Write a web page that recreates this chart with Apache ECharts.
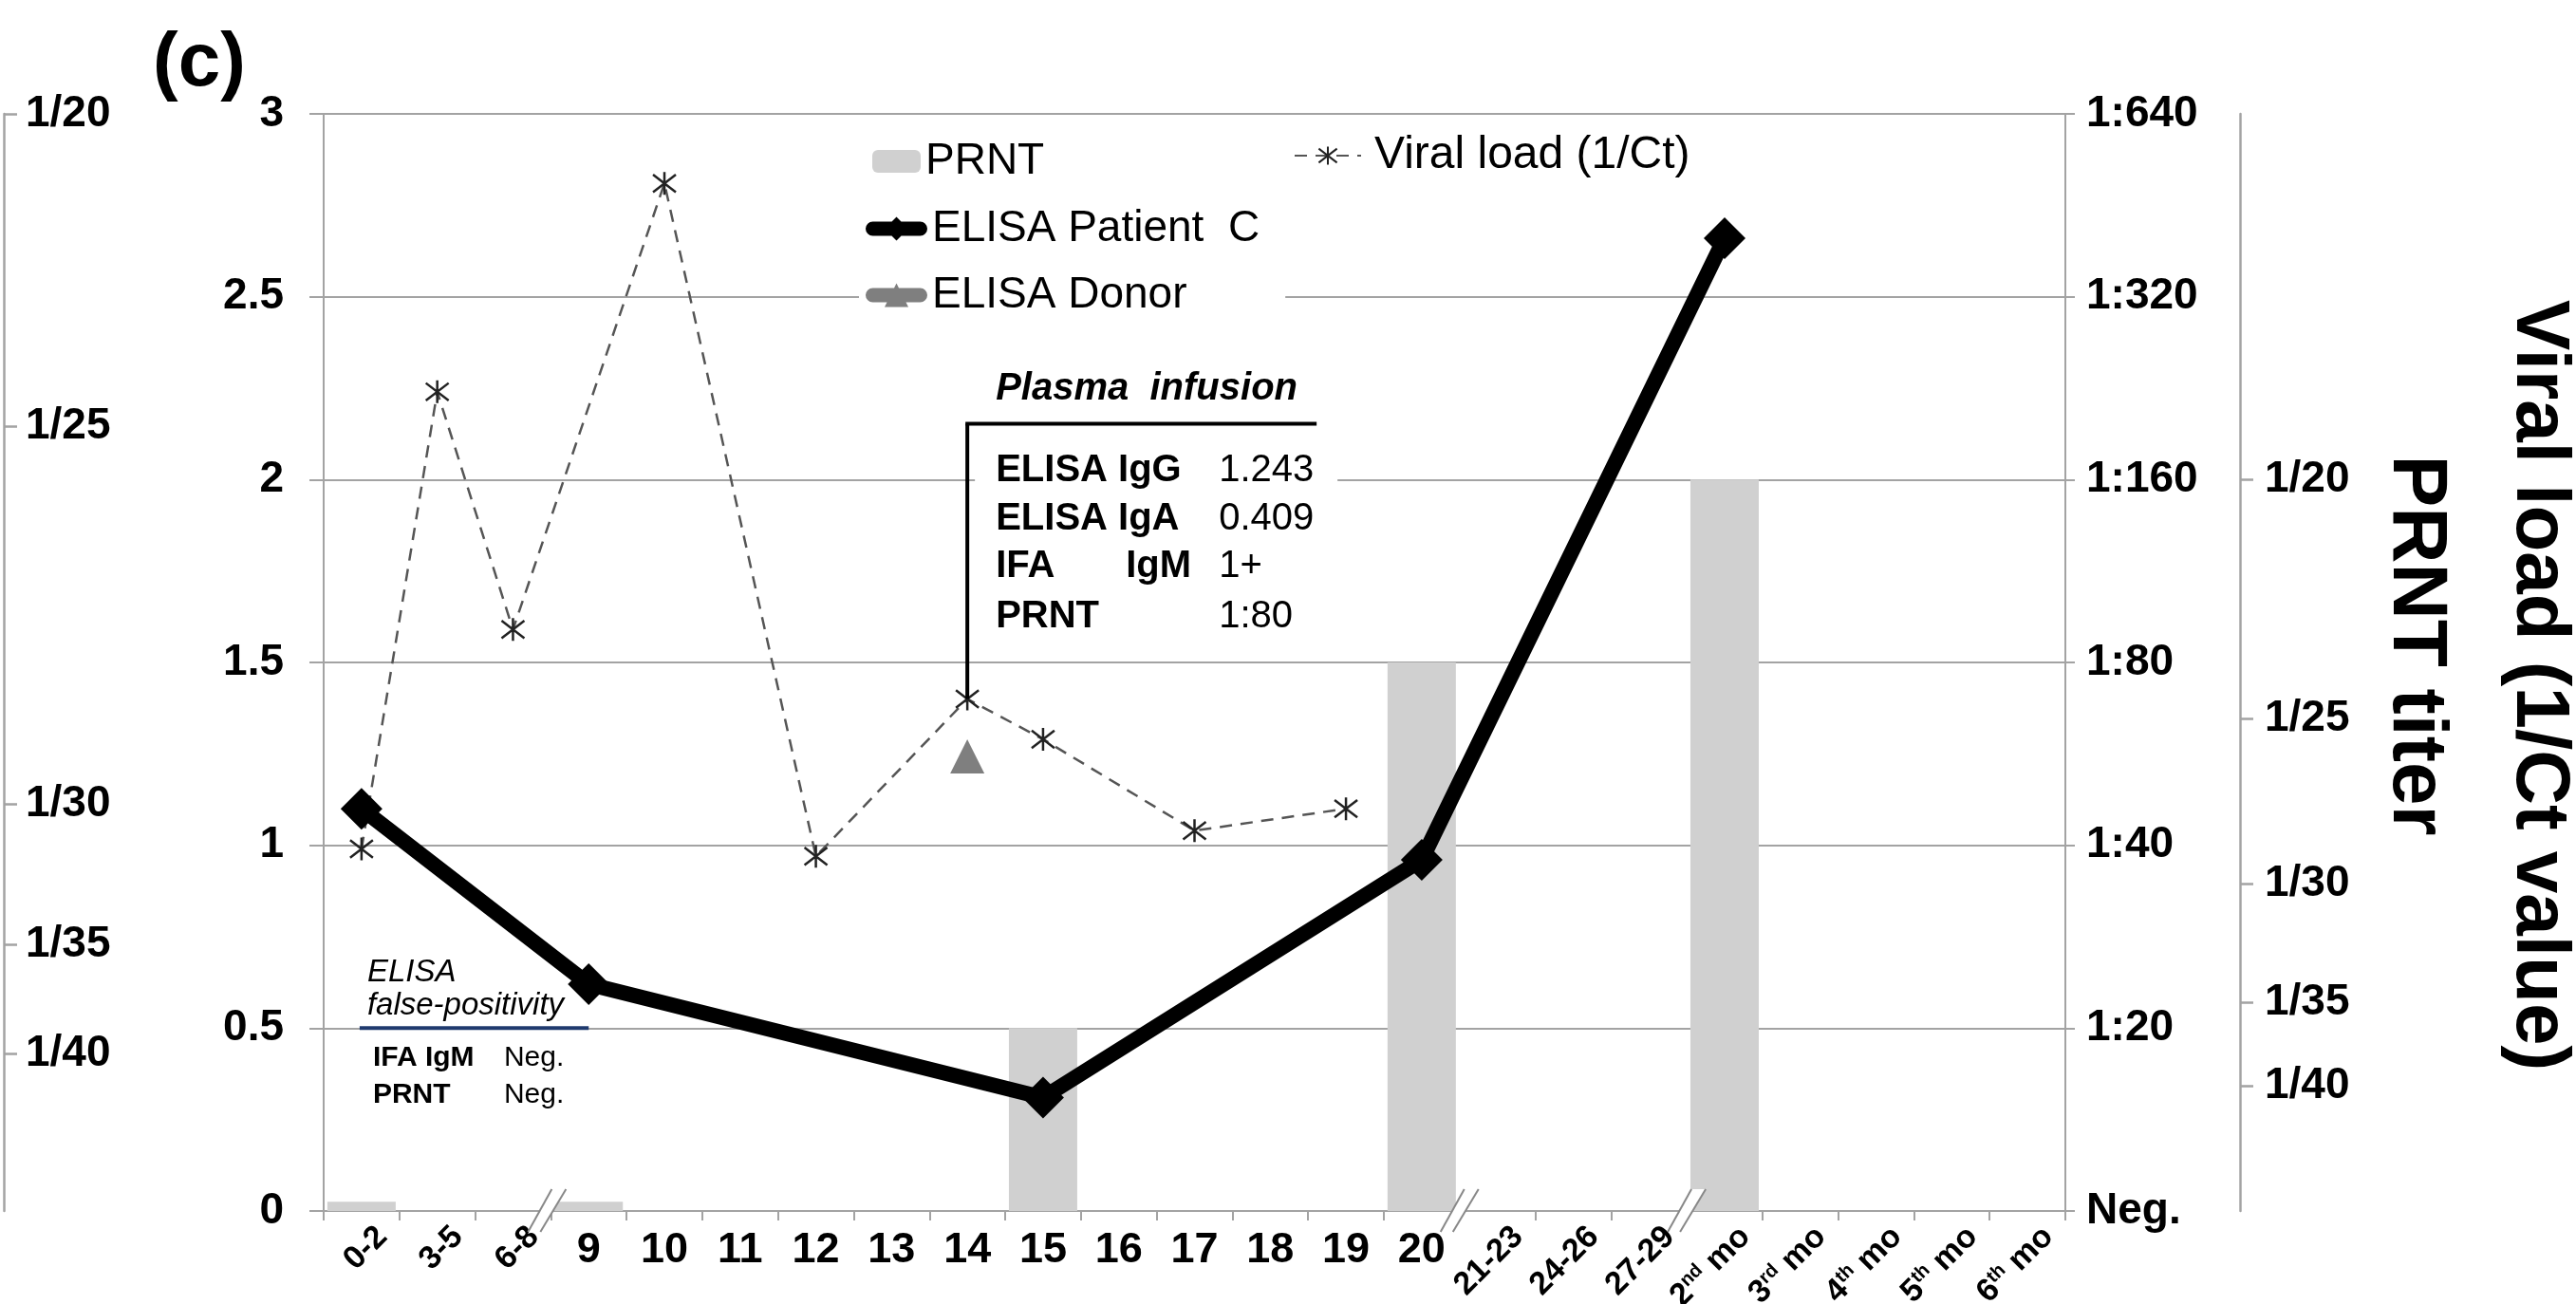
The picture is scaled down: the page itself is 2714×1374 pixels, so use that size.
<!DOCTYPE html>
<html><head><meta charset="utf-8">
<script src="https://cdn.jsdelivr.net/npm/echarts@6/dist/echarts.min.js"></script>
<style>html,body{margin:0;padding:0;background:#fff}#c{width:2714px;height:1374px}</style>
</head><body><div id="c"></div>
<script>
// ---------- data ----------
const categories = ['0-2','3-5','6-8','9','10','11','12','13','14','15','16','17','18','19','20','21-23','24-26','27-29','2nd mo','3rd mo','4th mo','5th mo','6th mo'];
const prntValues   = [0.025,null,null,0.025,null,null,null,null,null,0.5,null,null,null,null,1.5,null,null,null,2.0,null,null,null,null];
const elisaPatient = [1.10,null,null,0.62,null,null,null,null,null,0.31,null,null,null,null,0.96,null,null,null,2.66,null,null,null,null];
const elisaDonor   = [null,null,null,null,null,null,null,null,1.243,null,null,null,null,null,null,null,null,null,null,null,null,null,null];
const viralLoad    = [0.99,2.24,1.59,null,2.81,null,0.97,null,1.40,1.29,null,1.04,null,1.10,null,null,null,null,null,null,null,null,null];
const rightTiterLabels = ['Neg.','1:20','1:40','1:80','1:160','1:320','1:640'];
const leftCtLabels  = ['1/20','1/25','1/30','1/35','1/40'];
const leftCtPos     = [3.0, 2.145, 1.113, 0.728, 0.43];
const rightCtLabels = ['1/20','1/25','1/30','1/35','1/40'];
const rightCtPos    = [2.0, 1.345, 0.894, 0.571, 0.343];
const breakBefore = ['9','21-23','2nd mo'];
const numericCats = ['9','10','11','12','13','14','15','16','17','18','19','20'];

const FF = "'Liberation Sans', Arial, sans-serif";
const AX = '#a3a3a3';

function ctFormatter(labels, pos){
  return function(v){
    let best=-1, d=1e9;
    pos.forEach((p,i)=>{ if(Math.abs(p-v)<d){d=Math.abs(p-v);best=i;} });
    return d<0.01 ? labels[best] : '';
  };
}
function richMonth(c){
  const m = c.match(/^(\d)(st|nd|rd|th) mo$/);
  if(m) return '{n|'+m[1]+'}{s|'+m[2]+'}{n| mo}';
  return '{n|'+c+'}';
}
const patientIcon = 'path://M7.5,5L57.5,5A7.5,7.5 0 0 1 57.5,20L7.5,20A7.5,7.5 0 0 1 7.5,5ZM32.5,0L45,12.5L32.5,25L20,12.5Z';
const donorIcon   = 'path://M7.5,5L57.5,5A7.5,7.5 0 0 1 57.5,20L7.5,20A7.5,7.5 0 0 1 7.5,5ZM32.5,0L45,25L20,25Z';

const option = {
  animation:false,
  backgroundColor:'#fff',
  grid:{left:341, right:538, top:120, bottom:98, containLabel:false, outerBoundsMode:'none'},
  xAxis:[
    {type:'category', data:categories, boundaryGap:true,
     axisLine:{lineStyle:{color:AX,width:2}},
     axisTick:{show:true, interval:0, length:10, lineStyle:{color:AX,width:2}},
     axisLabel:{interval:0, margin:19, fontFamily:FF, fontWeight:'bold', fontSize:45, color:'#000',
       formatter:v=> numericCats.indexOf(v)>=0 ? v : ''},
     splitLine:{show:false}},
    {type:'category', data:categories, boundaryGap:true, position:'bottom', offset:-6,
     axisLine:{show:false}, axisTick:{show:false}, splitLine:{show:false},
     axisLabel:{interval:0, rotate:45, margin:6, padding:[62,0,0,0], color:'#000',
       formatter:v=> numericCats.indexOf(v)>=0 ? '' : richMonth(v),
       rich:{n:{fontFamily:FF,fontWeight:'bold',fontSize:34,color:'#000',lineHeight:35},
             s:{fontFamily:FF,fontWeight:'bold',fontSize:20,color:'#000',verticalAlign:'top',lineHeight:35}}}}
  ],
  yAxis:[
    {type:'value', min:0, max:3, interval:0.5, position:'left',
     axisLine:{show:true, lineStyle:{color:AX,width:2}},
     axisTick:{show:true, length:15, lineStyle:{color:AX,width:2}},
     axisLabel:{margin:42, fontFamily:FF, fontWeight:'bold', fontSize:46, color:'#000'},
     splitLine:{show:true, lineStyle:{color:AX,width:2}}},
    {type:'value', min:0, max:3, interval:0.5, position:'right',
     axisLine:{show:true, lineStyle:{color:AX,width:2}},
     axisTick:{show:true, length:10, lineStyle:{color:AX,width:2}},
     axisLabel:{margin:22, fontFamily:FF, fontWeight:'bold', fontSize:46, color:'#000',
       formatter:v=> rightTiterLabels[Math.round(v/0.5)]},
     splitLine:{show:false}},
    {type:'value', min:0, max:3, position:'left', offset:337,
     axisLine:{show:true, lineStyle:{color:AX,width:2.5}},
     axisTick:{show:true, inside:true, length:14, customValues:leftCtPos, lineStyle:{color:AX,width:2.5}},
     axisLabel:{inside:true, margin:23, customValues:leftCtPos, fontFamily:FF, fontWeight:'bold', fontSize:46, color:'#000',
       formatter:ctFormatter(leftCtLabels,leftCtPos)},
     splitLine:{show:false}},
    {type:'value', min:0, max:3, position:'right', offset:184,
     axisLine:{show:true, lineStyle:{color:AX,width:2.5}},
     axisTick:{show:true, length:14, customValues:rightCtPos, lineStyle:{color:AX,width:2.5}},
     axisLabel:{margin:26, customValues:rightCtPos, fontFamily:FF, fontWeight:'bold', fontSize:46, color:'#000',
       formatter:ctFormatter(rightCtLabels,rightCtPos)},
     splitLine:{show:false}}
  ],
  legend:[
    {data:['PRNT'], left:919, top:147, padding:0, itemWidth:51, itemHeight:24, itemGap:0,
     textStyle:{fontFamily:FF, fontSize:46, color:'#000', lineHeight:46}},
    {data:[{name:'ELISA Patient C', icon:patientIcon},{name:'ELISA Donor', icon:donorIcon}],
     orient:'vertical', left:905, top:213, padding:[5,27,5,7],
     backgroundColor:'#fff', itemWidth:65, itemHeight:25, itemGap:24,
     formatter:n=> n==='ELISA Patient C' ? 'ELISA Patient  C' : n,
     textStyle:{fontFamily:FF, fontSize:46, color:'#000', lineHeight:46}},
    {data:['Viral load (1/Ct)'], left:1363, top:140, padding:0, itemWidth:70, itemHeight:24,
     textStyle:{fontFamily:FF, fontSize:48, color:'#000', lineHeight:46, padding:[0,0,0,9]}}
  ],
  series:[
    {name:'PRNT', type:'bar', data:prntValues, barWidth:72, z:1,
     itemStyle:{color:'#d0d0d0'}},
    {name:'Viral load (1/Ct)', type:'line', data:viralLoad, connectNulls:true, z:3,
     symbol:'path://M0,0L20,20M20,0L0,20M10,-3L10,23', symbolSize:24,
     lineStyle:{color:'#555', width:2.5, type:[13,9]},
     itemStyle:{color:'#222', borderColor:'#222', borderWidth:2.5}},
    {name:'ELISA Donor', type:'line', data:elisaDonor, z:4,
     symbol:'triangle', symbolSize:36,
     lineStyle:{color:'#7f7f7f', width:16},
     itemStyle:{color:'#7f7f7f'}},
    {name:'ELISA Patient C', type:'line', data:elisaPatient, connectNulls:true, z:5,
     symbol:'diamond', symbolSize:44,
     lineStyle:{color:'#000', width:16},
     itemStyle:{color:'#000'}}
  ]
};

const chart = echarts.init(document.getElementById('c'), null, {renderer:'canvas'});
chart.setOption(option);

// ---------- annotations positioned through the chart's own scales ----------
const px = (cat, v) => chart.convertToPixel({xAxisIndex:0, yAxisIndex:0}, [cat, v]);
const band = px(1,0)[0] - px(0,0)[0];
const y0 = px(0,0)[1];
const g = [];
// axis breaks
breakBefore.forEach((c,i)=>{
  const b = px(c,0)[0] - band/2 + (i===0?0:4);
  g.push({type:'polygon', z:60, shape:{points:[[b+1,y0-23],[b+16,y0-23],[b-11,y0+22],[b-24,y0+22]]}, style:{fill:'#fff'}});
  g.push({type:'line', z:61, shape:{x1:b+1,y1:y0-23,x2:b-24,y2:y0+22}, style:{stroke:'#888',lineWidth:2}});
  g.push({type:'line', z:61, shape:{x1:b+16,y1:y0-23,x2:b-11,y2:y0+22}, style:{stroke:'#888',lineWidth:2}});
});
// plasma infusion box
const xa = px('14',0)[0];
const ytop = px('14',2.153)[1];
const ytip = px('14',1.40)[1];
g.push({type:'rect', z:55, shape:{x:xa+8,y:ytop+8,width:382,height:235}, style:{fill:'#fff'}});
g.push({type:'line', z:62, shape:{x1:xa-2,y1:ytop,x2:xa+368,y2:ytop}, style:{stroke:'#000',lineWidth:4}});
g.push({type:'line', z:62, shape:{x1:xa,y1:ytop,x2:xa,y2:ytip}, style:{stroke:'#000',lineWidth:4}});
const t = (x,y,text,font,extra)=>Object.assign({type:'text', z:63, style:Object.assign({x:x,y:y,text:text,font:font,fill:'#000',textVerticalAlign:'middle',textAlign:'left'},extra||{})});
g.push(t(xa+30, ytop-36, 'Plasma  infusion', "italic bold 40px "+FF));
const rows = [['ELISA IgG','','1.243'],['ELISA IgA','','0.409'],['IFA','IgM','1+'],['PRNT','','1:80']];
const rowDy = [50,101,151,204];
rows.forEach((r,i)=>{
  g.push(t(xa+30, ytop+rowDy[i], r[0], "bold 40px "+FF));
  if(r[1]) g.push(t(xa+167, ytop+rowDy[i], r[1], "bold 40px "+FF));
  g.push(t(xa+265, ytop+rowDy[i], r[2], "40px "+FF));
});
// ELISA false-positivity
const fs = px('0-2',0.5), fe = px('9',0.5);
g.push({type:'line', z:62, shape:{x1:fs[0]-2,y1:fs[1],x2:fe[0],y2:fe[1]}, style:{stroke:'#1f3a6e',lineWidth:4}});
g.push(t(fs[0]+6, fs[1]-59, 'ELISA', "italic 33px "+FF));
g.push(t(fs[0]+6, fs[1]-24, 'false-positivity', "italic 33px "+FF));
g.push(t(fs[0]+12, fs[1]+31, 'IFA IgM', "bold 30px "+FF));
g.push(t(fs[0]+12, fs[1]+70, 'PRNT', "bold 30px "+FF));
g.push(t(fs[0]+150, fs[1]+31, 'Neg.', "30px "+FF));
g.push(t(fs[0]+150, fs[1]+70, 'Neg.', "30px "+FF));
// panel letter and right-hand titles
g.push(t(161, 68, '(c)', "bold 80px "+FF));
g.push({type:'text', z:63, x:2674, y:722, rotation:-Math.PI/2, style:{x:0,y:0,text:'Viral load (1/Ct value)',font:"bold 80px "+FF,fill:'#000',textAlign:'center',textVerticalAlign:'middle'}});
g.push({type:'text', z:63, x:2545, y:680, rotation:-Math.PI/2, style:{x:0,y:0,text:'PRNT titer',font:"bold 82px "+FF,fill:'#000',textAlign:'center',textVerticalAlign:'middle'}});
chart.setOption({graphic:g});
</script></body></html>
